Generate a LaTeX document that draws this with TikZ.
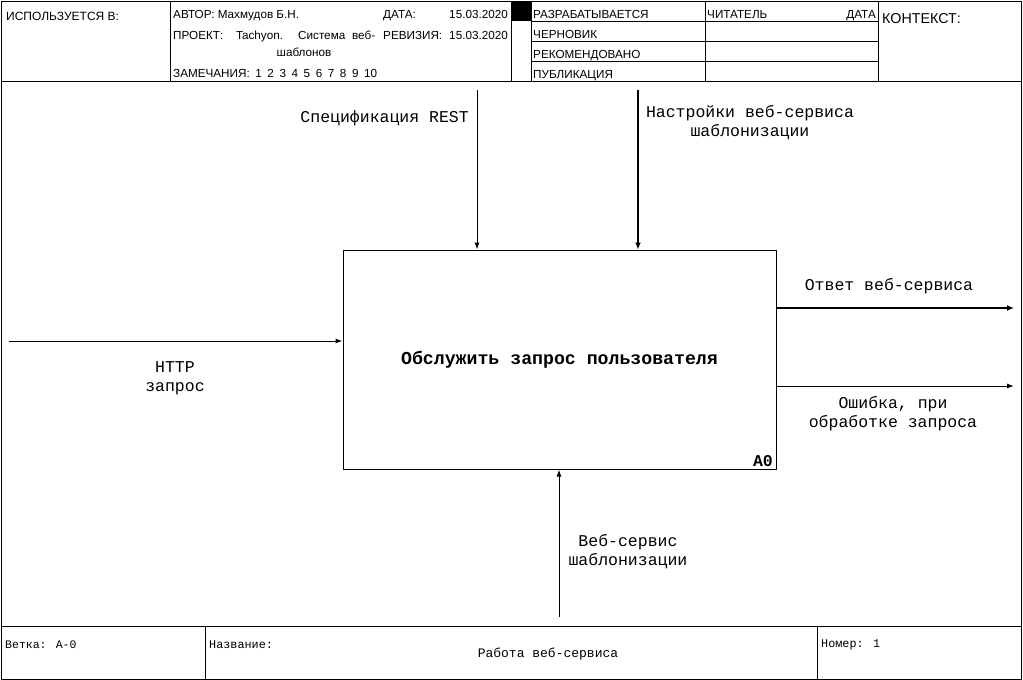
\documentclass[tikz,border=0pt]{standalone}
\usepackage{fontspec}
\setmainfont{Liberation Sans}
\newfontfamily\monofam{Liberation Mono}
\usetikzlibrary{arrows.meta}
\begin{document}
\begin{tikzpicture}[x=1pt,y=-1pt,
  frame/.style={line width=1pt},
  hdr/.style={font=\fontsize{11.7}{13}\selectfont, inner sep=0pt},
  lbl/.style={font=\monofam\fontsize{16.5}{19}\selectfont, align=center, inner sep=0pt},
  foot/.style={font=\monofam\fontsize{11.5}{13}\selectfont, inner sep=0pt},
  flow/.style={line width=1pt, -{Latex[length=7pt,width=5pt]}},
  heavy/.style={line width=2pt, -{Latex[length=7pt,width=6pt]}},
  actbox/.style={draw, line width=1pt, inner sep=0pt,
    minimum width=433pt, minimum height=219pt,
    font=\monofam\bfseries\fontsize{18.2}{20}\selectfont},
]
\useasboundingbox (0,0) rectangle (1023,680);
\fill[white] (0,0) rectangle (1023,680);

% outer frame and header grid
\draw[frame] (1,1) rectangle (1021.5,679);
\draw[frame] (1,81) -- (1021.5,81);
\draw[frame] (170,1) -- (170,81);
\draw[frame] (511,1) -- (511,81);
\draw[frame] (531,1) -- (531,81);
\draw[frame] (705,1) -- (705,81);
\draw[frame] (878,1) -- (878,81);
\foreach \yy in {21,41,61} \draw[frame] (531,\yy) -- (878,\yy);
\fill (511,1) rectangle (531,21);

% header texts
\node[font=\fontsize{12}{14}\selectfont, inner sep=0pt, anchor=base west] (used) at (6,20.5) {ИСПОЛЬЗУЕТСЯ В:};
\node[hdr, anchor=base west] (author) at (173,19) {АВТОР: Махмудов Б.Н.};
\node[hdr, anchor=base west] (project) at (173,39) {ПРОЕКТ:};
\node[hdr, anchor=base west] (projname) at (236,39) {\makebox[139pt][s]{Tachyon. Система веб-}};
\node[hdr, anchor=base] (projname2) at (304,56) {шаблонов};
\node[hdr, anchor=base west] (notes) at (173,77.5) {\makebox[204pt][s]{ЗАМЕЧАНИЯ: 1 2 3 4 5 6 7 8 9 10}};
\node[hdr, anchor=base west] (date) at (383,19) {ДАТА:};
\node[hdr, anchor=base east] (dateval) at (508,19) {15.03.2020};
\node[hdr, anchor=base west] (rev) at (383,39) {РЕВИЗИЯ:};
\node[hdr, anchor=base east] (revval) at (508,39) {15.03.2020};
\node[hdr, anchor=base west] (st1) at (533,18.5) {РАЗРАБАТЫВАЕТСЯ};
\node[hdr, anchor=base west] (st2) at (533,38) {ЧЕРНОВИК};
\node[hdr, anchor=base west] (st3) at (533,58) {РЕКОМЕНДОВАНО};
\node[hdr, anchor=base west] (st4) at (533,78) {ПУБЛИКАЦИЯ};
\node[hdr, anchor=base west] (reader) at (707,18.5) {ЧИТАТЕЛЬ};
\node[hdr, anchor=base east] (rdate) at (876,18.5) {ДАТА};
\node[font=\fontsize{14.3}{16}\selectfont, inner sep=0pt, anchor=base west] (ctx) at (882,23.3) {КОНТЕКСТ:};

% footer
\draw[frame] (1,626) -- (1021.5,626);
\draw[frame] (205,626) -- (205,679);
\draw[frame] (817,626) -- (817,679);
\node[foot, anchor=base west] (node) at (5,648) {Ветка: А-0};
\node[foot, font=\monofam\fontsize{11.8}{13}\selectfont, anchor=base west] (title) at (209,648) {Название:};
\node[foot, font=\monofam\fontsize{13}{15}\selectfont, anchor=base] (titleval) at (548,657.5) {Работа веб-сервиса};
\node[foot, font=\monofam\fontsize{11.8}{13}\selectfont, anchor=base west] (number) at (821,647.5) {Номер: 1};

% activity box
\node[actbox] (A0) at (559.5,359.5) {Обслужить запрос пользователя};
\node[font=\monofam\bfseries\fontsize{16.5}{19}\selectfont, inner sep=0pt, anchor=base east] (A0num) at (773,466) {A0};

% boundary ends of arrows
\coordinate (ctrlA) at (477,90);
\coordinate (ctrlB) at (638,90);
\coordinate (inA) at (9,341);
\coordinate (outA) at (1014,308);
\coordinate (outB) at (1014,386);
\coordinate (mechA) at (559,617);

% arrows
\draw[flow] (ctrlA) -- (ctrlA |- A0.north);
\draw[heavy] (ctrlB) -- (ctrlB |- A0.north);
\draw[flow] (inA) -- (inA -| A0.west);
\draw[heavy] (outA -| A0.east) -- (outA);
\draw[flow] (outB -| A0.east) -- (outB);
\draw[flow] (mechA) -- (mechA |- A0.south);

% arrow labels
\node[lbl, anchor=east] (lctrlA) at (469,118) {Спецификация REST};
\node[lbl] (lctrlB) at (750,122.5) {Настройки веб-сервиса\\шаблонизации};
\node[lbl] (linA) at (175,378) {HTTP\\запрос};
\node[lbl] (loutA) at (889,286) {Ответ веб-сервиса};
\node[lbl] (loutB) at (893,413.5) {Ошибка, при\\обработке запроса};
\node[lbl] (lmechA) at (628,551.5) {Веб-сервис\\шаблонизации};
\end{tikzpicture}
\end{document}
